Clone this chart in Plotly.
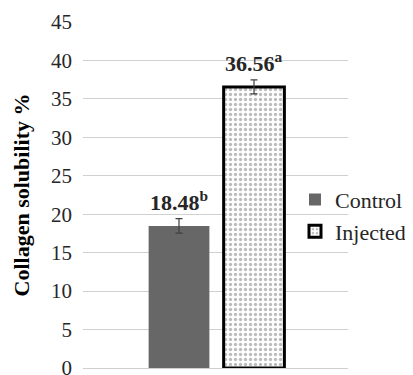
import plotly.graph_objects as go

groups = ["Control", "Injected"]
values = [18.48, 36.56]
errors = [0.95, 0.9]
letters = ["b", "a"]
y_ticks = [0, 5, 10, 15, 20, 25, 30, 35, 40, 45]

serif = "Liberation Serif"

fig = go.Figure()
fig.add_trace(go.Bar(
    x=[groups[0]], y=[values[0]], name=groups[0],
    marker=dict(color="#676767", line=dict(width=0)),
    error_y=dict(type="data", array=[errors[0]], color="#404040", thickness=1.2, width=3.5),
))
fig.add_trace(go.Bar(
    x=[groups[1]], y=[values[1]], name=groups[1],
    marker=dict(color="white", line=dict(color="black", width=3),
                pattern=dict(shape=".", fgcolor="#7a7a7a", bgcolor="white", size=5, solidity=0.35)),
    error_y=dict(type="data", array=[errors[1]], color="#404040", thickness=1.2, width=3.5),
))

for g, v, e, l in zip(groups, values, errors, letters):
    fig.add_annotation(x=g, y=v + e, xref="x", yref="y", yanchor="bottom", yshift=2,
                       text=f"<b>{v:.2f}<sup>{l}</sup></b>", showarrow=False,
                       font=dict(family=serif, size=22, color="#262626"))

fig.update_layout(
    width=405, height=367,
    margin=dict(l=75, r=65, t=14, b=7, autoexpand=False),
    plot_bgcolor="white", paper_bgcolor="white",
    barmode="overlay", bargap=0.19,
    showlegend=True,
    legend=dict(x=0.8, y=0.44, xanchor="left", yanchor="middle",
                font=dict(family=serif, size=22, color="#262626"),
                bgcolor="rgba(0,0,0,0)", itemwidth=30),
    xaxis=dict(range=[-1.28, 2.253], showticklabels=False, showgrid=False,
               zeroline=False, showline=False, ticks="", automargin=False),
    yaxis=dict(range=[0, 45], tickvals=y_ticks, showgrid=True, gridcolor="#d0d0d0",
               gridwidth=1, zeroline=True, zerolinecolor="#d0d0d0", zerolinewidth=1,
               showline=False, ticks="", ticklabelstandoff=10, ticklabeloverflow="allow",
               automargin=False,
               tickfont=dict(family=serif, size=21, color="#262626"),
               title=dict(text="<b>Collagen solubility %</b>", standoff=15,
                          font=dict(family=serif, size=22, color="#000000"))),
)

fig.write_html("out.html")
